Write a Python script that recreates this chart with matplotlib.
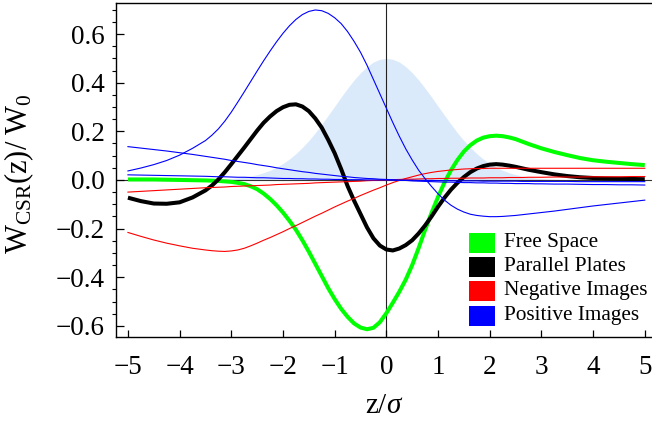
import numpy as np
import matplotlib
matplotlib.use("Agg")
import matplotlib.pyplot as plt
from matplotlib.patches import Rectangle

plt.rcParams['font.family'] = ['Liberation Serif', 'DejaVu Serif']
plt.rcParams['mathtext.fontset'] = 'custom'
plt.rcParams['mathtext.rm'] = 'Liberation Serif'
plt.rcParams['mathtext.it'] = 'Liberation Serif:italic'

# z/sigma positions the curves were read at (finer where they bend)
z = [-5.0, -4.75, -4.5, -4.25, -4.0, -3.75,
     -3.5, -3.375, -3.25, -3.125, -3.0, -2.875, -2.75, -2.625, -2.5,
     -2.375, -2.25, -2.125, -2.0, -1.875, -1.75, -1.625, -1.5, -1.375,
     -1.25, -1.125, -1.0, -0.875, -0.75, -0.625, -0.5, -0.375, -0.25,
     -0.125, 0.0, 0.125, 0.25, 0.375, 0.5, 0.625, 0.75, 0.875,
     1.0, 1.125, 1.25, 1.375, 1.5, 1.625, 1.75, 1.875, 2.0,
     2.125, 2.25, 2.375, 2.5, 2.625, 2.75, 2.875, 3.0,
     3.25, 3.5, 3.75, 4.0, 4.25, 4.5, 4.75, 5.0]

# bunch profile (shaded)
bunch = [0.0, 0.0, 0.0, 0.0, 0.0, 0.0,
         0.001, 0.0017, 0.0026, 0.0038, 0.0056, 0.008, 0.0114, 0.016, 0.022,
         0.0297, 0.0397, 0.0523, 0.0677, 0.0862, 0.108, 0.134, 0.162, 0.194,
         0.229, 0.266, 0.303, 0.341, 0.377, 0.411, 0.441, 0.466, 0.485,
         0.496, 0.5, 0.496, 0.485, 0.466, 0.441, 0.411, 0.377, 0.341,
         0.303, 0.266, 0.229, 0.194, 0.162, 0.134, 0.108, 0.0862, 0.0677,
         0.0523, 0.0397, 0.0297, 0.022, 0.016, 0.0114, 0.008, 0.0056,
         0.0026, 0.001, 0.0, 0.0, 0.0, 0.0, 0.0, 0.0]

free_space = [0.002, 0.002, 0.002, 0.001, 0.0, -0.001,
              -0.002, -0.003, -0.004, -0.006, -0.008, -0.012, -0.017, -0.026, -0.038,
              -0.056, -0.078, -0.104, -0.134, -0.168, -0.205, -0.248, -0.295, -0.345,
              -0.395, -0.445, -0.49, -0.53, -0.563, -0.59, -0.607, -0.614, -0.608,
              -0.585, -0.548, -0.505, -0.46, -0.41, -0.35, -0.28, -0.205, -0.135,
              -0.07, -0.01, 0.04, 0.082, 0.117, 0.143, 0.162, 0.174, 0.18,
              0.182, 0.18, 0.175, 0.168, 0.158, 0.148, 0.139, 0.13,
              0.115, 0.102, 0.09, 0.081, 0.075, 0.07, 0.065, 0.061]

plates = [-0.073, -0.087, -0.097, -0.098, -0.092, -0.072,
          -0.043, -0.023, 0.002, 0.032, 0.065, 0.099, 0.133, 0.168, 0.203,
          0.235, 0.261, 0.283, 0.299, 0.309, 0.311, 0.302, 0.283, 0.253,
          0.215, 0.165, 0.11, 0.045, -0.025, -0.085, -0.14, -0.195, -0.24,
          -0.27, -0.286, -0.29, -0.282, -0.268, -0.248, -0.22, -0.187, -0.15,
          -0.11, -0.073, -0.04, -0.012, 0.012, 0.032, 0.047, 0.057, 0.063,
          0.065, 0.063, 0.059, 0.054, 0.048, 0.042, 0.037, 0.032,
          0.023, 0.016, 0.011, 0.008, 0.006, 0.005, 0.004, 0.003]

neg_img_1 = [-0.216, -0.232, -0.247, -0.26, -0.271, -0.281,
             -0.288, -0.291, -0.293, -0.294, -0.292, -0.288, -0.281, -0.271, -0.26,
             -0.248, -0.237, -0.225, -0.213, -0.2, -0.188, -0.175, -0.162, -0.149,
             -0.137, -0.124, -0.111, -0.099, -0.087, -0.076, -0.064, -0.053, -0.042,
             -0.032, -0.021, -0.011, -0.002, 0.006, 0.013, 0.02, 0.026, 0.031,
             0.035, 0.038, 0.041, 0.043, 0.045, 0.046, 0.047, 0.047, 0.048,
             0.048, 0.048, 0.048, 0.048, 0.048, 0.048, 0.048, 0.048,
             0.048, 0.048, 0.048, 0.048, 0.048, 0.048, 0.048, 0.048]

neg_img_2 = [-0.05, -0.047, -0.044, -0.041, -0.038, -0.035,
             -0.032, -0.031, -0.030, -0.029, -0.027, -0.026, -0.025, -0.024, -0.023,
             -0.022, -0.021, -0.019, -0.018, -0.017, -0.016, -0.015, -0.014, -0.012,
             -0.011, -0.010, -0.009, -0.008, -0.007, -0.006, -0.005, -0.003, -0.002,
             -0.001, 0.0, 0.001, 0.002, 0.003, 0.003, 0.004, 0.005, 0.005,
             0.006, 0.006, 0.007, 0.007, 0.007, 0.008, 0.008, 0.008, 0.009,
             0.009, 0.009, 0.010, 0.010, 0.010, 0.011, 0.011, 0.011,
             0.012, 0.012, 0.012, 0.013, 0.013, 0.013, 0.014, 0.014]

pos_img_1 = [0.037, 0.049, 0.063, 0.08, 0.102, 0.13,
             0.162, 0.184, 0.21, 0.242, 0.279, 0.32, 0.362, 0.405, 0.448,
             0.49, 0.53, 0.568, 0.603, 0.634, 0.66, 0.68, 0.693, 0.699,
             0.696, 0.685, 0.667, 0.643, 0.61, 0.57, 0.525, 0.472, 0.413,
             0.354, 0.295, 0.236, 0.18, 0.128, 0.082, 0.04, 0.005, -0.027,
             -0.057, -0.083, -0.104, -0.12, -0.132, -0.141, -0.146, -0.149, -0.151,
             -0.151, -0.15, -0.148, -0.146, -0.143, -0.14, -0.137, -0.134,
             -0.128, -0.121, -0.114, -0.107, -0.101, -0.095, -0.089, -0.083]

pos_img_2 = [0.137, 0.131, 0.125, 0.119, 0.112, 0.105,
             0.097, 0.093, 0.089, 0.085, 0.08, 0.076, 0.072, 0.068, 0.063,
             0.059, 0.055, 0.05, 0.046, 0.042, 0.038, 0.034, 0.031, 0.027,
             0.024, 0.021, 0.018, 0.015, 0.013, 0.01, 0.008, 0.006, 0.005,
             0.003, 0.002, 0.001, -0.001, -0.002, -0.004, -0.005, -0.006, -0.007,
             -0.008, -0.009, -0.009, -0.010, -0.011, -0.011, -0.012, -0.012, -0.013,
             -0.013, -0.014, -0.014, -0.015, -0.015, -0.015, -0.016, -0.016,
             -0.017, -0.017, -0.018, -0.019, -0.019, -0.020, -0.020, -0.021]

pos_img_3 = [0.021, 0.020, 0.019, 0.018, 0.017, 0.016,
             0.015, 0.014, 0.013, 0.013, 0.012, 0.011, 0.011, 0.010, 0.009,
             0.009, 0.008, 0.007, 0.006, 0.006, 0.005, 0.005, 0.004, 0.004,
             0.003, 0.003, 0.002, 0.002, 0.001, 0.001, 0.001, 0.0, 0.0,
             0.0, 0.0, -0.001, -0.001, -0.001, -0.001, -0.002, -0.002, -0.002,
             -0.003, -0.003, -0.003, -0.004, -0.004, -0.004, -0.004, -0.005, -0.005,
             -0.005, -0.005, -0.005, -0.005, -0.006, -0.006, -0.006, -0.006,
             -0.006, -0.006, -0.007, -0.007, -0.007, -0.007, -0.007, -0.007]

labels = ["Free Space", "Parallel Plates", "Negative Images", "Positive Images"]
colors = ["#00ff00", "#000000", "#ff0000", "#0000ff"]

fig = plt.figure(figsize=(6.52, 4.26), dpi=100)
ax = fig.add_axes([0.178, 0.21, 0.822, 0.782])

ax.fill_between(z, 0, bunch, color="#dbeafb", lw=0, zorder=1)
ax.axhline(0, color="#333333", lw=0.8, zorder=1.5)
ax.axvline(0, color="#222222", lw=0.8, zorder=1.5)

thick = dict(lw=2.9, zorder=3, solid_joinstyle='round', solid_capstyle='butt')
thin = dict(lw=0.8, zorder=4, solid_joinstyle='round')
ax.plot(z, free_space, color=colors[0], **thick)
ax.plot(z, plates, color=colors[1], **thick)
ax.plot(z, neg_img_1, color=colors[2], **thin)
ax.plot(z, neg_img_2, color=colors[2], **thin)
for ys in (pos_img_1, pos_img_2, pos_img_3):
    ax.plot(z, ys, color=colors[3], **thin)

ax.set_xlim(-5.23, 5.14)
ax.set_ylim(-0.644, 0.726)
ax.set_xticks(np.arange(-5, 6, 1))
ax.set_xticklabels([("\u2212%d" % -v) if v < 0 else "%d" % v for v in range(-5, 6)])
ax.set_yticks([-0.6, -0.4, -0.2, 0.0, 0.2, 0.4, 0.6])
ax.set_yticklabels(["\u22120.6", "\u22120.4", "\u22120.2", "0.0", "0.2", "0.4", "0.6"])
ax.set_yticks(np.arange(-0.6, 0.71, 0.05), minor=True)

ax.tick_params(axis='both', direction='in', labelsize=19.5, width=0.9)
ax.tick_params(axis='x', length=5, pad=13)
ax.tick_params(axis='y', which='major', length=6, pad=8)
ax.tick_params(axis='y', which='minor', length=3, width=0.8)
ax.spines['right'].set_visible(False)
for s in ('left', 'bottom', 'top'):
    ax.spines[s].set_linewidth(1.0)

ax.set_xlabel(r"$\mathrm{z}/\sigma$", fontsize=21)
ax.xaxis.set_label_coords(0.5, -0.17)
ax.set_ylabel(r"$\mathrm{W_{CSR}(z)/\ W_0}$", fontsize=22)
ax.yaxis.set_label_coords(-0.15, 0.49)

# legend drawn by hand: colour squares with labels, tight rows
row_y = [0.281, 0.209, 0.137, 0.062]
for c, lab, yc in zip(colors, labels, row_y):
    ax.add_patch(Rectangle((0.6586, yc - 0.03), 0.0485, 0.06, transform=ax.transAxes,
                           facecolor=c, edgecolor='none', zorder=6))
    ax.text(0.724, yc, lab, transform=ax.transAxes, fontsize=15.3,
            va='center', ha='left', zorder=6)

fig.savefig("out.png", dpi=100)
